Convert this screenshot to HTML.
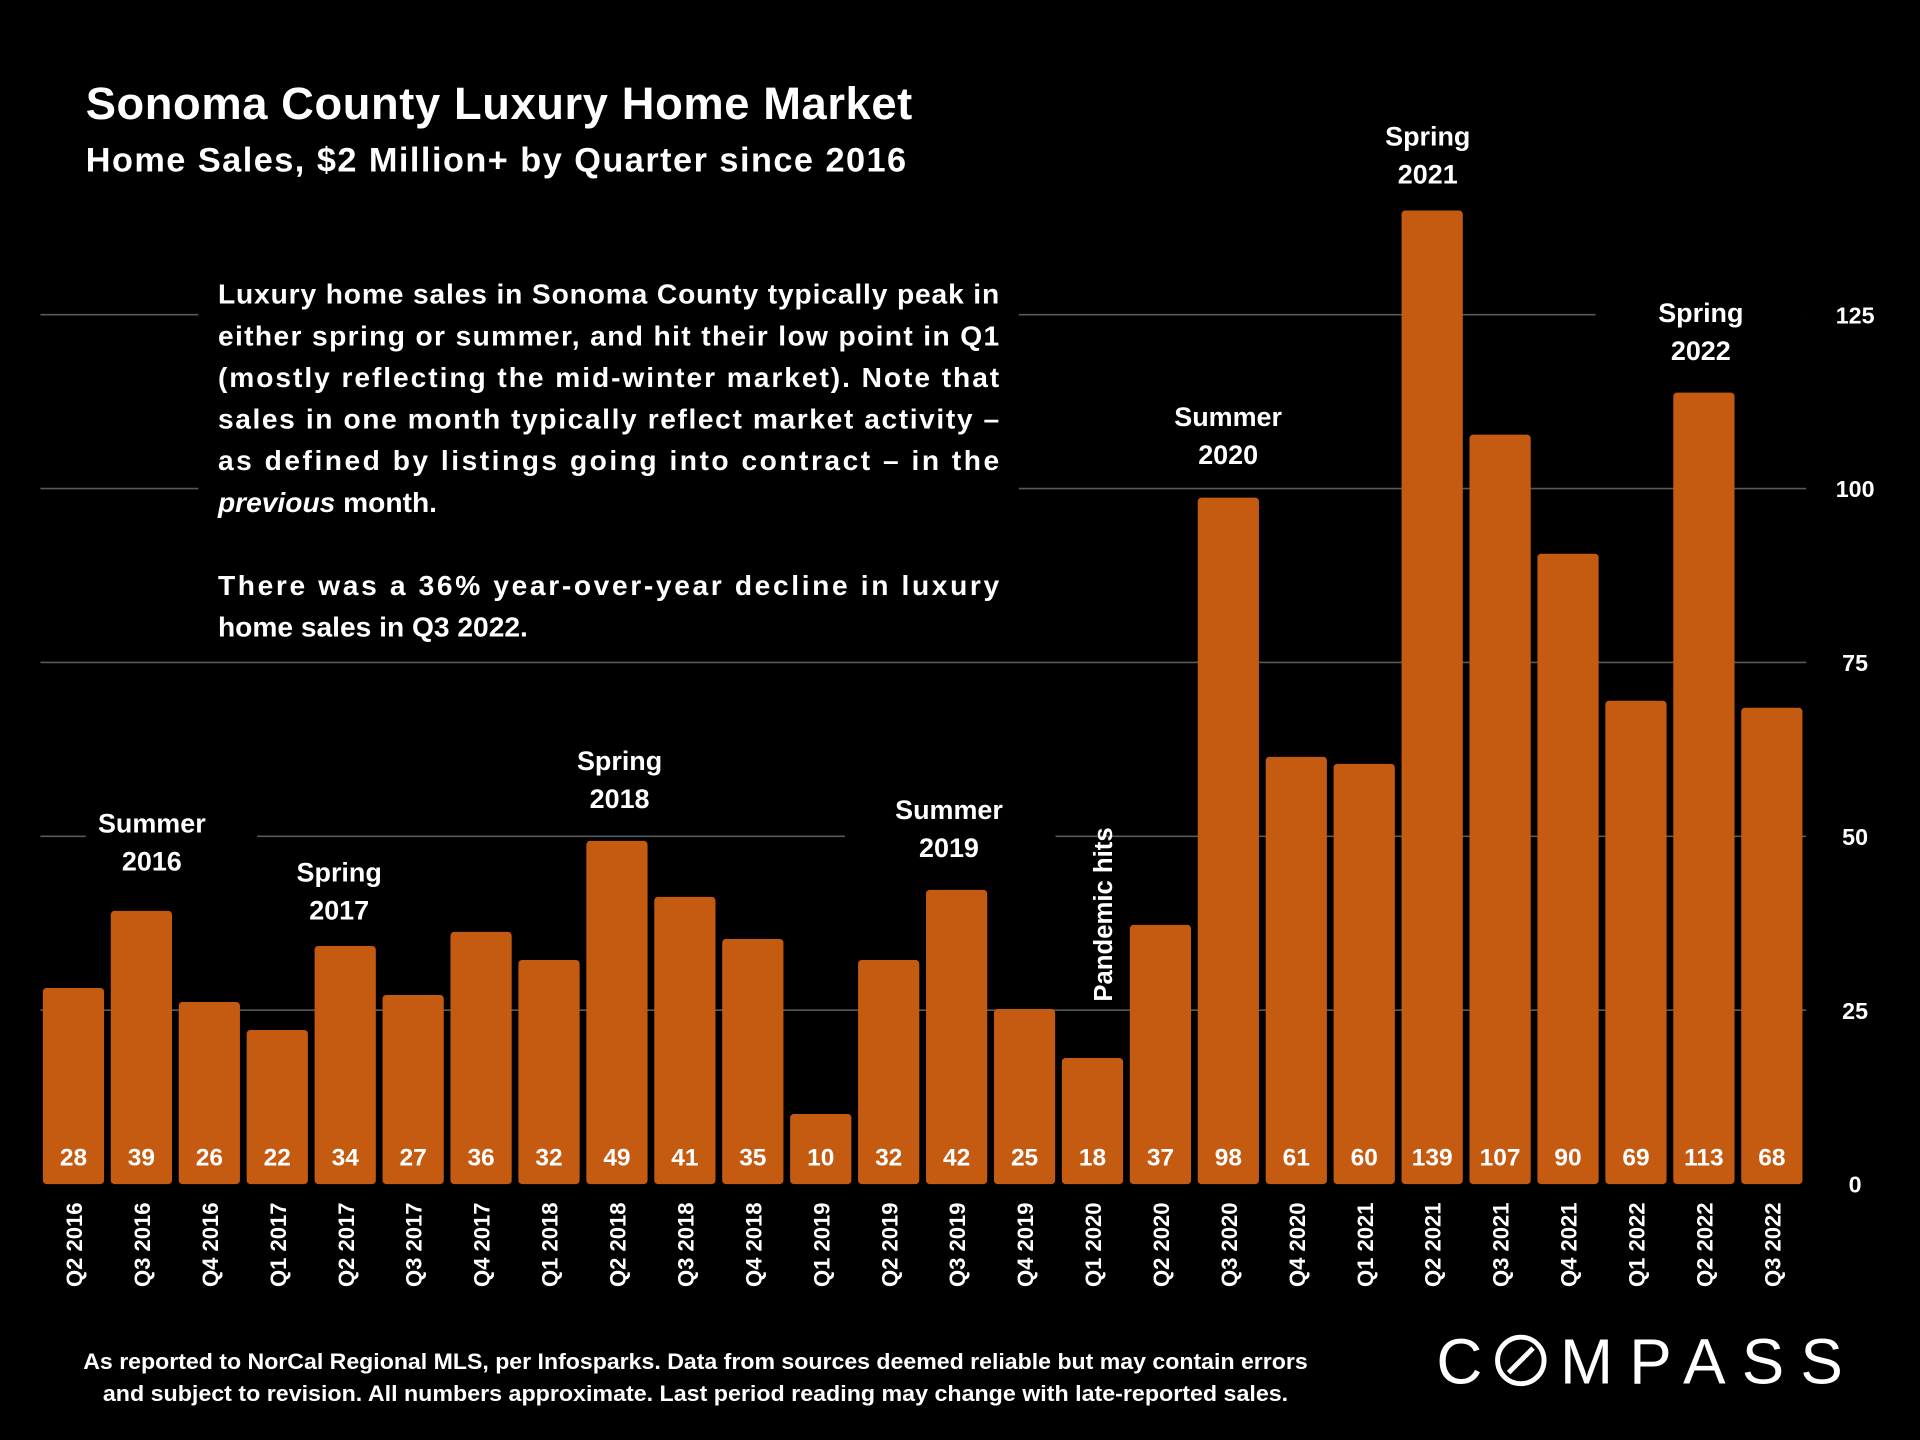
<!DOCTYPE html>
<html><head><meta charset="utf-8"><style>
html,body{margin:0;padding:0;background:#000;}
svg{display:block;}
text{font-family:"Liberation Sans",sans-serif;font-weight:bold;fill:#fff;}
</style></head><body>
<svg id="chart" width="1920" height="1440" viewBox="0 0 1568 1176" xmlns="http://www.w3.org/2000/svg">
<rect width="1568" height="1176" fill="#000"/>
<g id="grid"></g>
<g id="bars"></g>
<g id="covers">
<rect x="162" y="215" width="670" height="320" fill="#000"/>
<rect x="70" y="655" width="140" height="60" fill="#000"/>
<rect x="690" y="645" width="172" height="60" fill="#000"/>
<rect x="1303" y="235" width="172" height="40" fill="#000"/>
</g>
<text x="70" y="97" font-size="37" textLength="675">Sonoma County Luxury Home Market</text>
<text x="70" y="140" font-size="28" textLength="670">Home Sales, $2 Million+ by Quarter since 2016</text>
<g font-size="23">
<text x="178" y="248" textLength="638" lengthAdjust="spacing">Luxury home sales in Sonoma County typically peak in</text>
<text x="178" y="282" textLength="638" lengthAdjust="spacing">either spring or summer, and hit their low point in Q1</text>
<text x="178" y="316" textLength="638" lengthAdjust="spacing">(mostly reflecting the mid-winter market). Note that</text>
<text x="178" y="350" textLength="638" lengthAdjust="spacing">sales in one month typically reflect market activity –</text>
<text x="178" y="384" textLength="638" lengthAdjust="spacing">as defined by listings going into contract – in the</text>
<text x="178" y="418"><tspan font-style="italic">previous</tspan> month.</text>
<text x="178" y="486" textLength="638" lengthAdjust="spacing">There was a 36% year-over-year decline in luxury</text>
<text x="178" y="520">home sales in Q3 2022.</text>
</g>
<g id="ann" font-size="22" text-anchor="middle"></g>
<text transform="translate(908,818) rotate(-90)" font-size="21">Pandemic hits</text>
<g id="ylab" font-size="19" text-anchor="middle"></g>
<g id="xlab" font-size="18" text-anchor="end"></g>
<g id="vlab" font-size="20" text-anchor="middle"></g>
<g font-size="18" text-anchor="middle">
<text x="568" y="1118" textLength="1000" lengthAdjust="spacingAndGlyphs">As reported to NorCal Regional MLS, per Infosparks. Data from sources deemed reliable but may contain errors</text>
<text x="568" y="1144" textLength="968" lengthAdjust="spacingAndGlyphs">and subject to revision. All numbers approximate. Last period reading may change with late-reported sales.</text>
</g>
<g>
<text x="1173" y="1130" font-size="52" style="font-weight:normal">C</text>
<circle cx="1242" cy="1111" r="19" fill="none" stroke="#fff" stroke-width="4"/>
<line x1="1232" y1="1121" x2="1252" y2="1101" stroke="#fff" stroke-width="4"/>
<text x="1274" y="1130" font-size="52" style="font-weight:normal" textLength="231" lengthAdjust="spacing">MPASS</text>
</g>
</svg>
<script>
const categories = ["Q2 2016","Q3 2016","Q4 2016","Q1 2017","Q2 2017","Q3 2017","Q4 2017","Q1 2018","Q2 2018","Q3 2018","Q4 2018","Q1 2019","Q2 2019","Q3 2019","Q4 2019","Q1 2020","Q2 2020","Q3 2020","Q4 2020","Q1 2021","Q2 2021","Q3 2021","Q4 2021","Q1 2022","Q2 2022","Q3 2022"];
const sales = [28,39,26,22,34,27,36,32,49,41,35,10,32,42,25,18,37,98,61,60,139,107,90,69,113,68];
const yTicks = [0,25,50,75,100,125];
const annotationLines = [["Summer","2016"],["Spring","2017"],["Spring","2018"],["Summer","2019"],["Summer","2020"],["Spring","2021"],["Spring","2022"]];
const annotationIndex = [1,4,8,13,17,20,24];

const NS="http://www.w3.org/2000/svg";
const y0=967, pxPer=5.72, x0=60, step=55.48, bw=50;
const yS=v=>y0-v*pxPer, xS=i=>x0+i*step;
const annPos=[[124,711],[277,751],[506,660],[775,700],[1003,379],[1166,150],[1389,294]];
function mk(tag,attrs,parent){const e=document.createElementNS(NS,tag);for(const k in attrs)e.setAttribute(k,attrs[k]);parent.appendChild(e);return e;}
const grid=document.getElementById('grid'),bars=document.getElementById('bars'),ylab=document.getElementById('ylab'),xlab=document.getElementById('xlab'),vlab=document.getElementById('vlab'),ann=document.getElementById('ann');
yTicks.forEach(t=>{
  const gy=967-t*5.68;
  if(t>0){const l=mk('line',{x1:33,x2:1475,y1:gy,y2:gy,stroke:'#595959','stroke-width':1.3},grid);
  
  }
  const tx=mk('text',{x:1515,y:gy+7},ylab);tx.textContent=t;
  
  
});
sales.forEach((v,i)=>{
  const r=mk('rect',{x:xS(i)-bw/2,y:yS(v),width:bw,height:v*pxPer,rx:3,fill:'#C55A11'},bars);
  
  
  const t=mk('text',{x:xS(i),y:952},vlab);t.textContent=v;
  
  
  const c=mk('text',{transform:`translate(${xS(i)+7},982) rotate(-90)`},xlab);c.textContent=categories[i];
  
  
});
annotationIndex.forEach((bi,k)=>{
  const cx=annPos[k][0], base=annPos[k][1];
  const t1=mk('text',{x:cx,y:base-31},ann);t1.textContent=annotationLines[k][0];
  
  
  const t2=mk('text',{x:cx,y:base},ann);t2.textContent=annotationLines[k][1];
  
  
});
</script>
</body></html>
